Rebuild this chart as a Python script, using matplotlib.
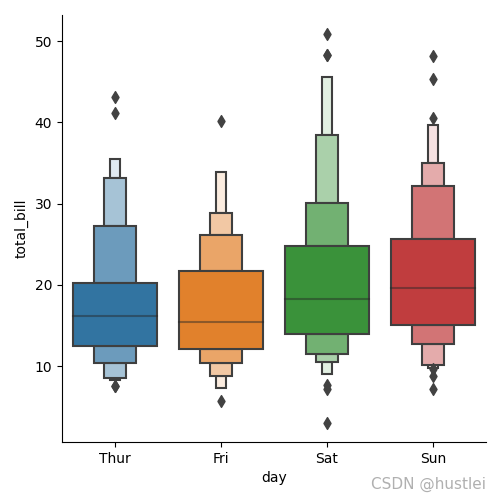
import matplotlib
matplotlib.use("Agg")
import matplotlib.pyplot as plt
import matplotlib.colors as mcolors
import numpy as np

days = ["Thur", "Fri", "Sat", "Sun"]
base_colors = ["#3274a1", "#e1812c", "#3a923a", "#c03d3e"]
medians = [16.2, 15.38, 18.24, 19.63]
# letter value edges, from the central box outwards
upper_edges = [[20.2, 27.2, 33.1, 35.5],
               [21.77, 26.15, 28.8, 33.9],
               [24.84, 30.12, 38.45, 45.6],
               [25.7, 32.21, 35.05, 39.68]]
lower_edges = [[12.5, 10.4, 8.52, 8.25],
               [12.13, 10.4, 8.8, 7.3],
               [14.01, 11.55, 10.57, 9.05],
               [15.12, 12.7, 10.16, 9.75]]
outliers = [[43.11, 41.19, 7.51, 7.56],
            [40.17, 5.75],
            [50.81, 48.33, 48.27, 7.74, 7.25, 3.07],
            [48.17, 45.35, 40.55, 9.6, 8.77, 7.25]]

fig, ax = plt.subplots(figsize=(5, 5), dpi=100)
fig.subplots_adjust(left=0.124, right=0.972, top=0.97, bottom=0.116)

edge = "#3f3f3f"
for i, day in enumerate(days):
    base = np.array(mcolors.to_rgb(base_colors[i]))
    n = len(upper_edges[i])
    for k in range(n):
        t = 0.85 * k / (n - 1)
        col = base + (1 - base) * t
        w = 0.8 * 0.5 ** k
        if k == 0:
            spans = [(lower_edges[i][0], upper_edges[i][0])]
        else:
            spans = [(upper_edges[i][k - 1], upper_edges[i][k]),
                     (lower_edges[i][k], lower_edges[i][k - 1])]
        for lo, hi in spans:
            ax.bar(i, hi - lo, bottom=lo, width=w, color=col,
                   edgecolor=edge, linewidth=1.5, zorder=2 + (n - k) * 0.1)
    ax.plot([i - 0.4, i + 0.4], [medians[i], medians[i]], color=".15",
            alpha=0.45, linewidth=1.5, zorder=3)
    ax.scatter([i] * len(outliers[i]), outliers[i], marker="d", s=36,
               color=".26", zorder=4)

ax.set_xlim(-0.5, 3.5)
ax.set_ylim(0.68, 53.2)
ax.set_xticks(range(len(days)))
ax.set_xticklabels(days)
ax.set_yticks([10, 20, 30, 40, 50])
ax.set_xlabel("day")
ax.set_ylabel("total_bill")
ax.spines["top"].set_visible(False)
ax.spines["right"].set_visible(False)

fig.text(0.972, 0.032, "CSDN @hustlei", ha="right", va="center",
         fontsize=11, color="#b0b0b0")

fig.savefig("out.png")
